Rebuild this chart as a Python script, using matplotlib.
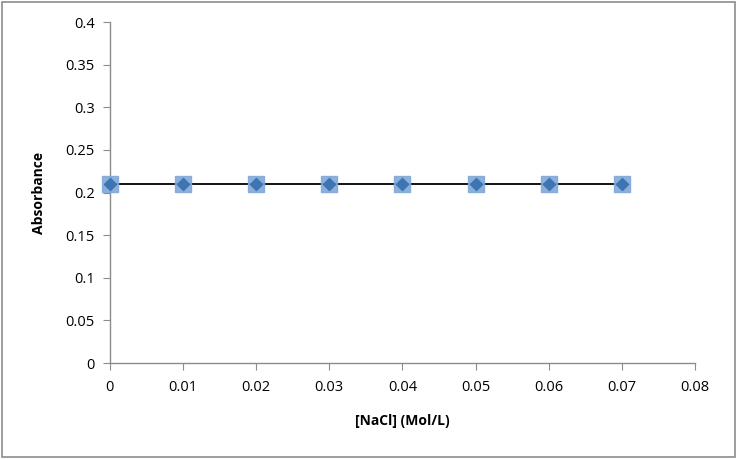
import matplotlib
matplotlib.use('Agg')
import matplotlib.pyplot as plt

nacl = [0.0, 0.01, 0.02, 0.03, 0.04, 0.05, 0.06, 0.07]
absorbance = [0.21, 0.21, 0.21, 0.21, 0.21, 0.21, 0.21, 0.21]
x_ticks = [0, 0.01, 0.02, 0.03, 0.04, 0.05, 0.06, 0.07, 0.08]
x_labels = ['0', '0.01', '0.02', '0.03', '0.04', '0.05', '0.06', '0.07', '0.08']
y_ticks = [0, 0.05, 0.1, 0.15, 0.2, 0.25, 0.3, 0.35, 0.4]
y_labels = ['0', '0.05', '0.1', '0.15', '0.2', '0.25', '0.3', '0.35', '0.4']

plt.rcParams['font.family'] = ['Open Sans', 'DejaVu Sans']

fig = plt.figure(figsize=(7.37, 4.59), dpi=100)
fig.patch.set_facecolor('white')
# grey frame round the whole chart
fig.patches.append(plt.Rectangle((0.003, 0.004), 0.994, 0.992, transform=fig.transFigure,
                                 fill=False, edgecolor='#8c8c8c', linewidth=1.2))

ax = fig.add_axes([0.149, 0.209, 0.794, 0.743])

ax.plot(nacl, absorbance, color='black', linewidth=1.3, zorder=2)
ax.scatter(nacl, absorbance, marker='s', s=120, color='#82a9d9', alpha=0.9,
           zorder=3, clip_on=False)
ax.scatter(nacl, absorbance, marker='D', s=38, color='#3d74b3', zorder=4, clip_on=False)

ax.set_xlim(0, 0.08)
ax.set_ylim(0, 0.4)
ax.set_xticks(x_ticks)
ax.set_xticklabels(x_labels)
ax.set_yticks(y_ticks)
ax.set_yticklabels(y_labels)

for s in ['top', 'right']:
    ax.spines[s].set_visible(False)
for s in ['left', 'bottom']:
    ax.spines[s].set_color('#8c8c8c')
    ax.spines[s].set_linewidth(1.0)

ax.tick_params(axis='both', colors='#8c8c8c', labelcolor='black', labelsize=10.5,
               length=5, direction='out')
ax.tick_params(axis='x', pad=7)
ax.tick_params(axis='y', pad=6)

ax.set_xlabel('[NaCl] (Mol/L)', fontsize=10, fontweight='bold', labelpad=14)
ax.set_ylabel('Absorbance', fontsize=10, fontweight='bold', labelpad=14)

fig.savefig('out.png', dpi=100, facecolor=fig.get_facecolor())
